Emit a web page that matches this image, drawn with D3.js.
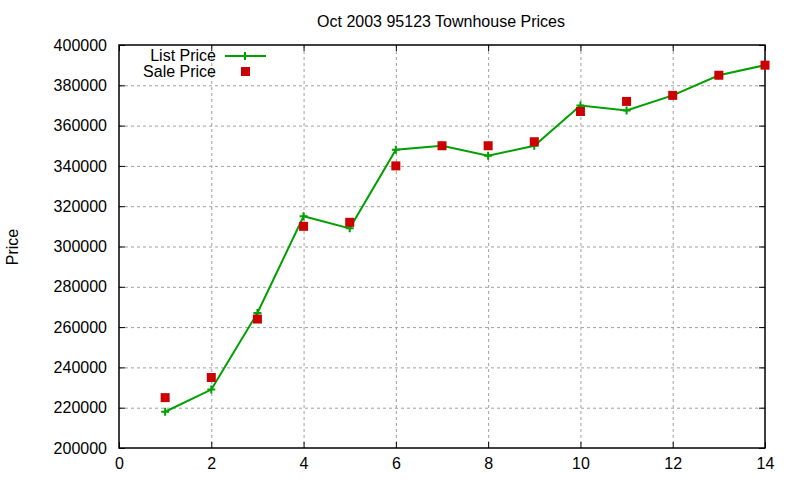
<!DOCTYPE html>
<html>
<head>
<meta charset="utf-8">
<script src="https://cdn.jsdelivr.net/npm/d3@7"></script>
<style>
  body { margin: 0; background: #fff; }
  svg text { font-family: "Liberation Sans", Arial, sans-serif; fill: #000; }
</style>
</head>
<body>
<svg width="800" height="480"></svg>
<script>
const months = d3.range(1, 15);
const listPrice = [218000, 229000, 267000, 315000, 309000, 348000, 350000, 345000, 350000, 370000, 367500, 375000, 385000, 390000];
const salePrice = [225000, 235000, 264000, 310000, 312000, 340000, 350000, 350000, 352000, 367000, 372000, 375000, 385000, 390000];
const xTicks = d3.range(0, 15, 2);
const yTicks = d3.range(200000, 400001, 20000);

const svg = d3.select('svg');
const plotL = 119, plotR = 765, plotT = 45, plotB = 448;

const x = d3.scaleLinear().domain([0, 14]).range([plotL, plotR]);
const y = d3.scaleLinear().domain([200000, 400000]).range([plotB, plotT]);

// grid
const grid = svg.append('g')
  .attr('stroke', '#a0a0a0')
  .attr('stroke-dasharray', '3,3')
  .attr('stroke-width', 1);
grid.selectAll('.gx')
  .data(xTicks.filter(d => d > 0 && d < 14))
  .enter().append('line')
  .attr('x1', d => x(d) + 0.5).attr('x2', d => x(d) + 0.5)
  .attr('y1', plotT).attr('y2', plotB);
grid.selectAll('.gy')
  .data(yTicks.filter(d => d > 200000 && d < 400000))
  .enter().append('line')
  .attr('y1', d => y(d) + 0.5).attr('y2', d => y(d) + 0.5)
  .attr('x1', plotL).attr('x2', plotR);

// axes, ticks pointing inward
const xAxis = d3.axisBottom(x).tickValues(xTicks).tickSize(-6).tickPadding(10);
const yAxis = d3.axisLeft(y).tickValues(yTicks).tickSize(-6).tickPadding(12).tickFormat(d3.format('d'));

svg.append('g')
  .attr('transform', 'translate(0,' + plotB + ')')
  .call(xAxis);
svg.append('g')
  .attr('transform', 'translate(0,' + plotT + ')')
  .call(d3.axisTop(x).tickValues(xTicks).tickSize(-6).tickFormat(''));
svg.append('g')
  .attr('transform', 'translate(' + plotL + ',0)')
  .call(yAxis);
svg.append('g')
  .attr('transform', 'translate(' + plotR + ',0)')
  .call(d3.axisRight(y).tickValues(yTicks).tickSize(-6).tickFormat(''));

svg.selectAll('.domain').remove();
svg.selectAll('.tick line').attr('stroke', '#000');
svg.selectAll('.tick text')
  .style('font-size', '16px')
  .style('font-family', '"Liberation Sans", Arial, sans-serif')
  .attr('fill', '#000');

svg.append('rect')
  .attr('x', plotL).attr('y', plotT)
  .attr('width', plotR - plotL).attr('height', plotB - plotT)
  .attr('fill', 'none').attr('stroke', '#000').attr('stroke-width', 1.5);

// list price line
const line = d3.line()
  .x((d, i) => x(months[i]))
  .y(d => y(d));
svg.append('path')
  .datum(listPrice)
  .attr('d', line)
  .attr('fill', 'none')
  .attr('stroke', '#00a000')
  .attr('stroke-width', 2);

svg.selectAll('.lp')
  .data(listPrice)
  .enter().append('path')
  .attr('transform', (d, i) => 'translate(' + x(months[i]) + ',' + y(d) + ')')
  .attr('d', 'M-4,0H4M0,-4V4')
  .attr('stroke', '#00a000')
  .attr('stroke-width', 2);

// sale price squares
svg.selectAll('.sp')
  .data(salePrice)
  .enter().append('rect')
  .attr('x', (d, i) => x(months[i]) - 4.5)
  .attr('y', d => y(d) - 4.5)
  .attr('width', 9).attr('height', 9)
  .attr('fill', '#cc0000');

// title and label
svg.append('text')
  .attr('x', 441).attr('y', 27)
  .attr('text-anchor', 'middle')
  .style('font-size', '16px')
  .text('Oct 2003 95123 Townhouse Prices');

svg.append('text')
  .attr('transform', 'translate(18,247) rotate(-90)')
  .attr('text-anchor', 'middle')
  .style('font-size', '16px')
  .text('Price');

// legend
const leg = svg.append('g');
leg.append('text')
  .attr('x', 216).attr('y', 61)
  .attr('text-anchor', 'end')
  .style('font-size', '16px')
  .text('List Price');
leg.append('line')
  .attr('x1', 225).attr('x2', 266)
  .attr('y1', 56).attr('y2', 56)
  .attr('stroke', '#00a000').attr('stroke-width', 2);
leg.append('path')
  .attr('transform', 'translate(245,56)')
  .attr('d', 'M-4,0H4M0,-4V4')
  .attr('stroke', '#00a000').attr('stroke-width', 2);
leg.append('text')
  .attr('x', 216).attr('y', 77)
  .attr('text-anchor', 'end')
  .style('font-size', '16px')
  .text('Sale Price');
leg.append('rect')
  .attr('x', 241).attr('y', 67)
  .attr('width', 9).attr('height', 9)
  .attr('fill', '#cc0000');
</script>
</body>
</html>
